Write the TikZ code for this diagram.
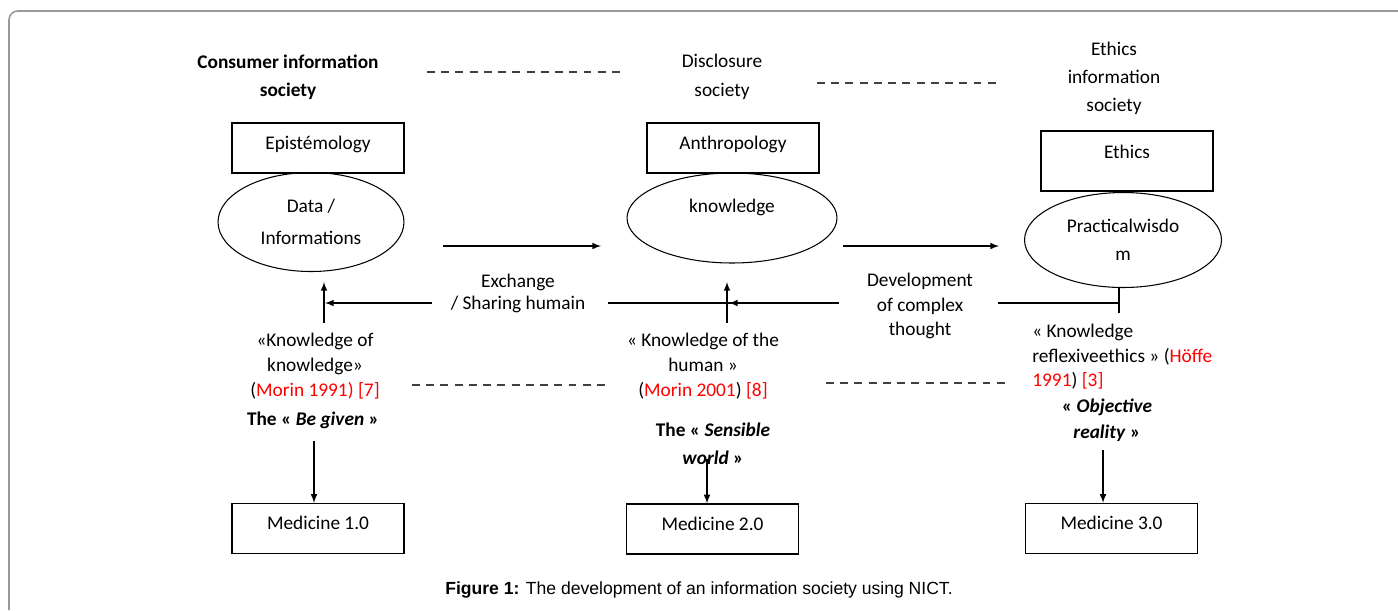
\documentclass[tikz,border=0pt]{standalone}
\usepackage{fontspec}
\setmainfont{Carlito}
\newfontfamily\captfont{Liberation Sans}
\usetikzlibrary{arrows,shapes.geometric}

\begin{document}
\begin{tikzpicture}[x=0.02cm,y=-0.02cm,
	box_node/.style={rectangle,draw,line width=0.8pt,minimum width=3.44cm,minimum height=1cm,inner sep=0pt,text height=8pt,text depth=6.8pt,font=\fontsize{11}{14}\selectfont},
	ell_node/.style={ellipse,draw,line width=0.6pt,inner sep=0pt,align=center},
	txt_node/.style={align=center,inner sep=0pt,font=\fontsize{11}{14.2}\selectfont},
	sep_line/.style={dash pattern=on 4.5pt off 3.6pt,line width=0.7pt,black!75},
	link/.style={line width=0.7pt},
	arr/.style={link,-latex}]

	\useasboundingbox (0,0) rectangle (1398,610);
	\draw[black!40,line width=0.9pt,rounded corners=5pt] (9,610) -- (9,11) -- (1398,11);

	% societies
	\node[txt_node,font=\fontsize{11}{16}\selectfont\bfseries] (s1) at (288,77) {Consumer information\\society};
	\node[txt_node,font=\fontsize{11}{16.5}\selectfont] (s2) at (722,76.5) {Disclosure\\society};
	\node[txt_node,font=\fontsize{11}{16}\selectfont] (s3) at (1114,78) {Ethics\\information\\society};
	\coordinate (t1) at (427,72); \coordinate (t2) at (625,72);
	\coordinate (t3) at (817,83); \coordinate (t4) at (1002,83);
	\draw[sep_line] (t1) -- (t2);
	\draw[sep_line] (t3) -- (t4);

	% fields
	\node[box_node] (epi) at (318,148) {Epistémology};
	\node[box_node] (anth) at (733,148) {Anthropology};
	\node[box_node,minimum height=1.2cm,text depth=11.2pt] (eth) at (1127,161) {Ethics};

	\node[ell_node,minimum width=3.72cm,minimum height=1.98cm,font=\fontsize{11}{18}\selectfont] (data) at (311,222) {Data /\\Informations};
	\node[ell_node,minimum width=4.2cm,minimum height=1.8cm,font=\fontsize{11}{14}\selectfont,text height=8pt,text depth=14.6pt] (know) at (732,218) {knowledge};
	\node[ell_node,minimum width=3.94cm,minimum height=1.9cm,font=\fontsize{11}{16}\selectfont] (pw) at (1123,240) {Practicalwisdo\\m};

	\coordinate (r1) at (443,246); \coordinate (r2) at (601,246);
	\coordinate (r3) at (843,246); \coordinate (r4) at (999,246);
	\draw[arr] (r1) -- (r2);
	\draw[arr] (r3) -- (r4);

	% back links
	\node[txt_node,font=\fontsize{11}{13}\selectfont] (exch) at (518,293.5) {Exchange\\/ Sharing humain};
	\node[txt_node,font=\fontsize{11}{13.8}\selectfont] (dev) at (920,306) {Development\\of complex\\thought};
	\coordinate (pwtick) at (1119,313);
	\coordinate (h1) at (1119,303); \coordinate (h2) at (998,303);
	\coordinate (h3) at (839,303); \coordinate (h4) at (608,303);
	\coordinate (h5) at (432,303);
	\coordinate (tip2) at (729,303); \coordinate (tip1) at (325,303);
	\draw[link] (pwtick) -- (pwtick |- pw.south);
	\draw[link] (h1) -- (h2);
	\draw[link] (h3) -- (h4);
	\draw[arr] (h3) -- (tip2);
	\draw[arr] (h5) -- (tip1);
	\coordinate (u1) at (324,323); \coordinate (u1t) at (324,282);
	\coordinate (u2) at (727,323); \coordinate (u2t) at (727,282);
	\draw[arr] (u1) -- (u1t);
	\draw[arr] (u2) -- (u2t);

	% knowledges
	\node[txt_node] (k1) at (315,366) {«Knowledge of\\knowledge»\\(\textcolor{red}{Morin 1991)} \textcolor{red}{[7]}};
	\node[txt_node,font=\fontsize{11}{14.2}\selectfont\bfseries] (g1) at (313,420) {The « \textit{Be given} »};
	\node[txt_node] (k2) at (703,366) {« Knowledge of the\\human »\\(\textcolor{red}{Morin 2001}) \textcolor{red}{[8]}};
	\node[txt_node,font=\fontsize{11}{16}\selectfont\bfseries] (g2) at (713,444) {The « \textit{Sensible}\\\textit{world} »};
	\node[txt_node,align=left,anchor=west,font=\fontsize{11}{13.9}\selectfont] (k3) at (1032,357) {« Knowledge\\reflexiveethics » (\textcolor{red}{Höffe}\\\textcolor{red}{1991}) \textcolor{red}{[3]}};
	\node[txt_node,font=\fontsize{11}{15}\selectfont\bfseries] (g3) at (1107,420) {« \textit{Objective}\\\textit{reality} »};
	\coordinate (l1) at (412,385); \coordinate (l2) at (607,385);
	\coordinate (l3) at (826,383); \coordinate (l4) at (1007,383);
	\draw[sep_line] (l1) -- (l2);
	\draw[sep_line] (l3) -- (l4);

	% medicines
	\node[box_node] (med1) at (318,528.5) {Medicine 1.0};
	\node[box_node] (med2) at (712.5,529) {Medicine 2.0};
	\node[box_node] (med3) at (1111.5,528.5) {Medicine 3.0};
	\coordinate (d1) at (314,441);
	\coordinate (d2) at (707,459);
	\coordinate (d3) at (1103,450);
	\draw[arr] (d1) -- (d1 |- med1.north);
	\draw[arr] (d2) -- (d2 |- med2.north);
	\draw[arr] (d3) -- (d3 |- med3.north);

	\node[inner sep=0pt,font=\captfont\fontsize{10}{12}\selectfont] (cap) at (699,590) {\textbf{Figure 1:} The development of an information society using NICT.};
\end{tikzpicture}
\end{document}
